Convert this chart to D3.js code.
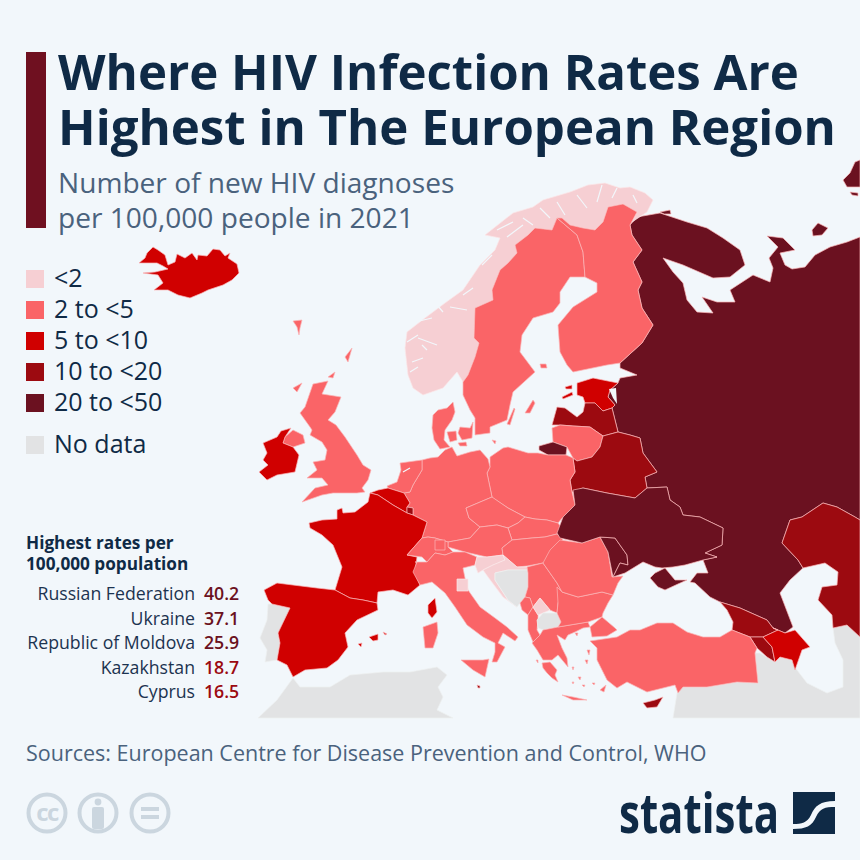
<![CDATA[<!DOCTYPE html>
<html><head><meta charset="utf-8">
<script src="https://cdnjs.cloudflare.com/ajax/libs/d3/7.8.5/d3.min.js"></script>
<style>html,body{margin:0;padding:0;background:#f2f7fb}svg{display:block}text{font-family:"Open Sans",sans-serif}</style>
</head><body><svg id="c" width="860" height="860"></svg>
<script>
const titleLines=["Where HIV Infection Rates Are","Highest in The European Region"];
const subtitleLines=["Number of new HIV diagnoses","per 100,000 people in 2021"];
const legendLabels=["<2","2 to <5","5 to <10","10 to <20","20 to <50","No data"];
const legendColors=["#f6cfd3","#fa6467","#d00000","#9c0a10","#6b1120","#e2e3e4"];
const rankHeading=["Highest rates per","100,000 population"];
const rankNames=["Russian Federation","Ukraine","Republic of Moldova","Kazakhstan","Cyprus"];
const rankValues=[40.2,37.1,25.9,18.7,16.5];
const sourceText="Sources: European Centre for Disease Prevention and Control, WHO";
const rate=v=>v<2?0:v<5?1:v<10?2:v<20?3:v<50?4:5;

// Map outlines, traced as planar map units
const iceland=[[[139,263],[145,258],[147,253],[153,247],[158,250],[165,255],[168,265],[175,262],[177,254],[185,258],[192,253],[197,260],[198,255],[207,256],[213,249],[220,250],[225,256],[230,253],[228,258],[237,264],[239,273],[232,280],[223,285],[208,290],[202,293],[190,298],[178,295],[168,290],[154,290],[163,283],[158,275],[143,273],[155,272],[168,269],[163,266],[157,263],[147,263]]];
const faroe=[[[293,321],[302,320],[300,328],[299,335],[297,327]]];
const uk=[[[313,384],[328,381],[322,394],[341,397],[335,412],[328,420],[336,425],[345,437],[357,455],[363,465],[371,470],[368,480],[362,488],[365,492],[357,493],[333,493],[322,495],[302,502],[315,488],[328,485],[322,478],[307,478],[317,470],[313,462],[325,460],[327,450],[322,442],[310,435],[312,430],[310,427],[300,413],[305,407]],
[[293,388],[302,383],[297,392]],[[328,377],[335,372],[333,378]],[[345,357],[352,348],[348,362]]];
const nIreland=[[[285,437],[293,430],[303,435],[305,443],[293,447],[283,443]]];
const ireland=[[[263,443],[277,437],[281,431],[291,428],[285,437],[283,443],[293,447],[299,455],[295,472],[277,475],[267,480],[259,472],[268,465],[263,460],[267,453]]];
const france=[[[309,523],[322,520],[337,519],[337,510],[342,508],[343,513],[355,512],[368,502],[370,493],[378,495],[393,505],[407,513],[413,515],[427,522],[422,538],[407,555],[417,557],[415,572],[420,585],[408,595],[393,590],[378,592],[377,603],[363,600],[350,598],[335,590],[342,567],[333,545],[322,535],[310,528]]];
const belgium=[[[370,493],[378,490],[388,488],[404,493],[410,503],[407,507],[407,513],[393,505],[378,495]]];
const luxembourg=[[[407,507],[413,508],[413,515],[407,513]]];
const netherlands=[[[387,486],[397,482],[401,470],[400,463],[422,460],[422,470],[413,485],[410,492],[404,493],[388,488]]];
const germany=[[[422,460],[430,458],[438,457],[445,450],[452,447],[457,456],[470,452],[480,450],[488,459],[490,467],[487,473],[492,497],[466,508],[469,518],[480,527],[470,538],[448,542],[435,538],[428,537],[422,538],[427,522],[413,515],[413,508],[407,507],[410,503],[404,493],[410,492],[413,485],[422,470]]];
const denmark=[[[433,415],[438,410],[447,408],[453,402],[455,412],[452,420],[445,430],[444,440],[450,447],[440,449],[434,440],[432,428]],[[460,427],[470,428],[473,422],[472,438],[462,440],[458,433]],[[447,432],[456,431],[457,440],[450,442]],[[458,443],[466,442],[467,446],[460,446]],[[492,440],[496,441],[495,444]]];
const norway=[[[653,200],[645,193],[630,187],[620,188],[605,183],[588,185],[570,192],[543,200],[533,207],[513,213],[485,235],[500,238],[495,250],[480,265],[463,290],[445,303],[425,318],[407,332],[405,348],[408,375],[413,388],[423,395],[443,388],[457,372],[463,382],[468,375],[475,357],[479,343],[474,338],[475,308],[493,300],[492,290],[500,270],[508,263],[517,253],[515,245],[528,235],[535,228],[552,230],[557,220],[562,218],[570,225],[583,228],[595,230],[603,222],[608,207],[623,204],[637,212],[632,222],[647,212]]];
const sweden=[[[557,218],[577,235],[583,252],[585,277],[570,277],[560,292],[560,303],[553,312],[533,318],[522,335],[520,352],[535,372],[513,392],[510,405],[507,420],[490,427],[490,433],[475,435],[475,418],[470,410],[463,395],[463,382],[468,375],[475,357],[479,343],[474,338],[475,308],[493,300],[492,290],[500,270],[508,263],[517,253],[515,245],[528,235],[535,228],[552,230]],[[525,413],[533,400],[535,403],[530,413]],[[507,424],[514,408],[515,409],[510,425]]];
const finland=[[[557,218],[562,218],[570,225],[583,228],[595,230],[603,222],[608,207],[623,204],[637,212],[630,225],[632,235],[642,250],[633,262],[642,282],[638,290],[642,308],[653,325],[642,343],[620,363],[607,365],[573,372],[567,365],[560,352],[558,325],[573,307],[597,292],[597,283],[585,277],[583,252],[577,235]],[[540,364],[546,364],[547,368],[541,368]]];
const estonia=[[[577,383],[593,378],[618,383],[610,390],[608,397],[615,405],[612,408],[603,411],[595,403],[585,403],[583,397],[577,395]],[[562,397],[572,392],[573,395],[563,399]],[[565,387],[572,385],[572,389],[566,389]]];
const latvia=[[[552,425],[557,407],[565,408],[577,417],[583,412],[585,403],[595,403],[603,411],[612,408],[618,432],[603,436],[590,427],[573,426],[560,425]]];
const lithuania=[[[552,428],[560,425],[573,426],[590,427],[603,436],[600,447],[592,457],[577,461],[573,458],[567,447],[553,442]]];
const kaliningrad=[[[539,446],[553,442],[567,447],[566,455],[548,455],[539,450]]];
const belarus=[[[603,436],[618,432],[630,435],[640,438],[643,453],[657,472],[645,477],[647,488],[635,498],[607,493],[583,488],[572,492],[570,480],[575,472],[573,458],[577,461],[592,457],[600,447]]];
const poland=[[[490,463],[490,457],[503,448],[508,447],[528,453],[538,453],[548,455],[566,455],[573,458],[575,472],[570,480],[572,492],[575,505],[563,517],[558,523],[547,520],[535,519],[525,517],[508,508],[493,498],[492,497],[487,473],[490,467]]];
const czechia=[[[466,508],[492,497],[508,508],[525,517],[518,523],[508,528],[497,525],[480,527],[469,518]]];
const slovakia=[[[525,517],[535,519],[547,520],[558,523],[563,530],[557,534],[545,537],[532,538],[512,540],[508,528],[518,523]]];
const austria=[[[480,527],[497,525],[508,528],[512,540],[502,548],[503,555],[487,557],[465,552],[448,547],[448,542],[470,538]]];
const hungary=[[[512,540],[532,538],[545,537],[557,534],[563,540],[553,552],[543,563],[527,566],[517,567],[503,555],[502,548]]];
const switzerland=[[[428,537],[435,538],[448,542],[448,547],[453,552],[445,555],[435,553],[427,562],[422,557],[407,555],[422,538]]];
const squareA=[[[435,540],[445,540],[445,550],[435,550]]];
const italy=[[[415,562],[427,562],[435,553],[445,555],[453,552],[465,552],[477,557],[475,565],[463,568],[465,578],[468,590],[480,607],[495,618],[507,627],[518,637],[515,641],[503,633],[498,643],[505,647],[497,662],[492,662],[495,652],[495,643],[483,637],[467,625],[455,607],[445,593],[432,582],[420,585],[413,572],[417,562]],
[[461,660],[483,660],[489,659],[485,677],[473,670]],[[423,627],[437,622],[438,633],[433,648],[425,648]]];
const sanMarino=[[[457,579],[468,579],[468,591],[457,591]]];
const corsica=[[[428,605],[435,598],[437,612],[432,618],[428,613]]];
const spain=[[[264,590],[277,583],[293,585],[317,588],[335,590],[350,598],[363,600],[377,603],[378,610],[357,620],[345,633],[348,647],[338,660],[327,668],[305,670],[293,677],[287,665],[277,660],[280,643],[278,633],[290,608],[272,604],[268,600]],
[[369,637],[378,634],[378,640],[373,641]],[[383,632],[387,634],[385,635]],[[358,644],[362,643],[361,647]]];
const portugal=[[[268,604],[272,604],[290,608],[285,623],[278,633],[280,643],[277,660],[265,662],[267,650],[260,638],[267,620]]];
const northAfrica=[[[258,718],[277,700],[293,678],[300,687],[330,687],[350,675],[383,672],[410,672],[437,667],[447,675],[438,687],[443,697],[437,710],[453,718]]];
const malta=[[[477,685],[480,686],[480,688],[478,688]]];
const slovenia=[[[477,557],[487,557],[503,555],[505,560],[493,565],[483,570],[478,573],[475,565]]];
const croatia=[[[503,555],[517,567],[527,567],[528,570],[508,570],[495,573],[495,580],[508,600],[517,607],[503,597],[488,577],[483,570],[493,565],[505,560]]];
const bosnia=[[[495,573],[508,570],[528,570],[528,587],[525,597],[520,603],[517,607],[508,600],[495,580]]];
const serbia=[[[527,567],[543,563],[557,583],[562,592],[558,603],[557,613],[550,610],[540,598],[533,607],[530,598],[525,597],[528,587],[528,573]]];
const montenegro=[[[520,603],[525,597],[530,598],[533,607],[528,615],[522,610]]];
const albania=[[[528,615],[533,607],[538,615],[538,620],[537,630],[540,635],[533,642],[528,630]]];
const kosovo=[[[533,607],[540,598],[550,610],[543,613],[538,615]]];
const macedonia=[[[537,620],[543,613],[557,613],[561,622],[558,627],[543,630],[538,628]]];
const greece=[[[540,635],[543,630],[558,627],[570,625],[588,622],[590,627],[583,628],[575,632],[568,635],[565,640],[557,635],[562,648],[567,658],[568,667],[558,655],[552,660],[543,660],[537,650],[532,643],[533,642]],
[[542,663],[550,662],[557,670],[555,675],[558,682],[552,678],[547,673],[543,668]],[[562,695],[573,697],[587,700],[573,700]],
[[587,650],[590,650],[589,655]],[[585,660],[588,660],[587,664]],[[575,633],[578,633],[577,636]],[[572,667],[574,667],[573,670]],[[578,677],[581,677],[580,680]],[[572,682],[574,682],[573,684]],[[600,690],[606,685],[604,692]],[[582,685],[585,685],[584,687]],[[592,683],[595,683],[594,685]],[[536,660],[538,660],[538,663]]];
const bulgaria=[[[557,587],[562,592],[578,597],[602,592],[613,595],[608,603],[603,613],[602,617],[588,622],[570,625],[558,627],[561,622],[557,613],[558,603]]];
const romania=[[[543,563],[550,550],[560,540],[582,543],[600,537],[608,552],[612,577],[623,576],[618,583],[613,595],[602,592],[578,597],[562,592],[557,583]]];
const moldova=[[[600,537],[615,538],[627,555],[628,565],[620,563],[613,577],[608,552]]];
const ukraine=[[[573,490],[583,488],[607,493],[635,498],[647,488],[667,487],[670,500],[680,507],[683,515],[700,517],[723,528],[722,545],[705,553],[717,557],[703,560],[685,565],[673,567],[662,568],[655,567],[643,562],[625,573],[613,577],[620,563],[628,565],[627,555],[615,538],[600,537],[582,543],[560,538],[557,533],[563,517],[575,505]],
[[650,578],[655,573],[665,568],[675,580],[687,580],[678,584],[665,590],[658,587]]];
const russia=[[[630,225],[637,217],[660,213],[687,222],[707,228],[723,238],[740,250],[745,265],[730,277],[713,278],[683,265],[663,258],[673,272],[683,283],[687,300],[697,312],[713,313],[702,297],[717,302],[735,302],[730,290],[753,275],[770,282],[773,268],[769,258],[778,247],[767,236],[783,238],[795,250],[780,253],[785,265],[792,269],[805,267],[815,255],[830,247],[847,242],[860,237],[860,520],[855,517],[837,507],[823,503],[802,517],[790,520],[782,543],[798,560],[803,568],[790,580],[780,593],[793,627],[785,633],[773,628],[767,620],[740,608],[720,602],[710,597],[695,583],[690,582],[697,573],[708,573],[703,560],[717,557],[705,553],[722,545],[723,528],[700,517],[683,515],[680,507],[670,500],[667,487],[647,488],[645,477],[657,472],[643,453],[640,438],[630,435],[618,432],[612,408],[615,405],[608,397],[610,390],[618,383],[620,378],[637,375],[620,368],[620,363],[642,343],[653,325],[642,308],[638,290],[642,282],[633,262],[642,250],[632,235]],
[[843,180],[850,173],[855,162],[860,160],[860,187],[847,187]],[[812,230],[818,223],[828,228],[822,235],[813,236]],[[850,192],[858,193],[858,196],[852,195]],[[660,212],[670,210],[671,214],[664,214]]];
const kazakhstan=[[[860,520],[855,517],[837,507],[823,503],[802,517],[790,520],[782,543],[798,560],[803,568],[825,563],[838,572],[837,585],[822,587],[818,600],[832,615],[833,628],[847,625],[860,637]]];
const georgia=[[[720,602],[740,608],[767,620],[773,628],[778,630],[763,637],[750,637],[732,630],[733,622],[727,610]]];
const armenia=[[[750,637],[763,637],[772,647],[775,662],[767,657],[757,648]]];
const azerbaijan=[[[773,628],[785,633],[795,630],[810,647],[802,650],[795,670],[792,660],[780,657],[775,662],[772,647],[763,637],[778,630]]];
const turkey=[[[590,627],[602,617],[615,628],[617,630],[607,636],[592,637]],
[[590,641],[617,637],[630,630],[640,630],[657,623],[673,623],[687,632],[703,637],[720,637],[732,630],[750,637],[757,648],[755,653],[758,683],[737,682],[707,687],[683,687],[678,693],[675,685],[667,687],[647,692],[627,682],[617,688],[607,680],[597,660],[597,648]]];
const cyprus=[[[643,703],[655,700],[663,697],[657,707],[647,708]]];
const middleEast=[[[673,718],[677,693],[683,687],[707,687],[737,682],[758,683],[755,653],[760,653],[775,662],[780,657],[792,660],[797,670],[807,683],[827,693],[843,687],[843,660],[835,643],[833,628],[847,625],[860,637],[860,718]]];
const waterLines=[[[497,230],[513,222]],[[507,237],[523,225]],[[523,218],[533,225]],[[540,208],[550,218]],[[557,202],[565,215]],[[577,195],[587,208]],[[602,185],[597,202]],[[617,188],[612,198]],[[633,195],[637,203]],[[482,265],[492,255]],[[463,295],[473,288]],[[450,307],[467,310]],[[437,305],[443,312]],[[418,338],[437,345]],[[422,345],[427,350]],[[407,342],[418,335]],[[412,362],[423,358]],[[410,372],[418,367]],[[415,322],[432,318]],[[403,472],[410,468]]];
const lakePeipus=[[[609,389],[616,388],[617,404],[613,398]]];

const countries=[
["Iceland",2,iceland],["Faroe",1,faroe],["United Kingdom",1,uk],["Northern Ireland",1,nIreland],["Ireland",2,ireland],
["Portugal",5,portugal],["North Africa",5,northAfrica],["Middle East",5,middleEast],
["Russia",4,russia],["Norway",0,norway],["Sweden",1,sweden],["Finland",1,finland],["Denmark",1,denmark],
["Estonia",2,estonia],["Latvia",3,latvia],["Lithuania",1,lithuania],["Kaliningrad",4,kaliningrad],["Belarus",3,belarus],
["Poland",1,poland],["Germany",1,germany],["Netherlands",1,netherlands],["Belgium",2,belgium],["Luxembourg",3,luxembourg],
["France",2,france],["Spain",2,spain],["Corsica",2,corsica],["Czechia",1,czechia],["Slovakia",1,slovakia],["Austria",1,austria],
["Hungary",1,hungary],["Switzerland",1,switzerland],["Liechtenstein",1,squareA],["Italy",1,italy],["San Marino",0,sanMarino],["Malta",3,malta],
["Slovenia",0,slovenia],["Croatia",0,croatia],["Bosnia",5,bosnia],["Serbia",1,serbia],["Montenegro",1,montenegro],["Albania",1,albania],
["Kosovo",0,kosovo],["North Macedonia",5,macedonia],["Greece",1,greece],["Bulgaria",1,bulgaria],["Romania",1,romania],["Moldova",4,moldova],
["Ukraine",4,ukraine],["Kazakhstan",3,kazakhstan],["Georgia",3,georgia],["Armenia",3,armenia],["Azerbaijan",2,azerbaijan],["Turkey",1,turkey],["Cyprus",3,cyprus]
];

const bg="#f2f7fb",navy="#0f2a46",slate="#4a627d";
const svg=d3.select("#c");
svg.append("rect").attr("width",860).attr("height",860).attr("fill",bg);
const path=d3.geoPath(d3.geoIdentity());
const toGeo=rings=>({type:"MultiPolygon",coordinates:rings.map(r=>[r.concat([r[0]])])});
const strokeFor=c=>c===5?"#eef0f1":c===0?"#fbe6e8":"#fbb6b8";
svg.append("g").selectAll("path").data(countries).join("path")
 .attr("d",d=>path(toGeo(d[2])))
 .attr("fill",d=>legendColors[d[1]]).attr("stroke",d=>strokeFor(d[1]))
 .attr("stroke-width",.7).attr("stroke-linejoin","round");
svg.append("path").attr("d",path({type:"MultiLineString",coordinates:waterLines}))
 .attr("fill","none").attr("stroke",bg).attr("stroke-width",1.2);
svg.append("path").attr("d",path(toGeo(lakePeipus))).attr("fill",bg);

// Heading block
svg.append("rect").attr("x",26).attr("y",52).attr("width",20).attr("height",176).attr("fill","#6f1020");
svg.append("g").selectAll("text").data(titleLines).join("text")
 .attr("x",58).attr("y",(d,i)=>90+i*55).attr("fill",navy).attr("font-size",49.2).attr("font-weight",700).text(d=>d);
svg.append("g").selectAll("text").data(subtitleLines).join("text")
 .attr("x",58).attr("y",(d,i)=>193+i*34.5).attr("fill",slate).attr("font-size",28.1).text(d=>d);

// Legend
const legendY=d3.scalePoint().domain(legendLabels.slice(0,5)).range([270,394]);
const ly=(d,i)=>i<5?legendY(d):436;
const lg=svg.append("g").selectAll("g").data(legendLabels).join("g");
lg.append("rect").attr("x",26).attr("y",ly).attr("width",18).attr("height",18).attr("fill",(d,i)=>legendColors[i]);
lg.append("text").attr("x",54).attr("y",(d,i)=>ly(d,i)+17).attr("fill",navy).attr("font-size",25).text(d=>d);

// Ranking table
svg.append("g").selectAll("text").data(rankHeading).join("text")
 .attr("x",26).attr("y",(d,i)=>549+i*21).attr("fill",navy).attr("font-size",17.2).attr("font-weight",700).text(d=>d);
const rowY=d3.scalePoint().domain(rankNames).range([600,698]);
svg.append("g").selectAll("text").data(rankNames).join("text")
 .attr("x",195).attr("y",d=>rowY(d)).attr("text-anchor","end").attr("fill","#1c3350").attr("font-size",17.7).text(d=>d);
svg.append("g").selectAll("text").data(rankValues).join("text")
 .attr("x",204).attr("y",(d,i)=>rowY(rankNames[i])).attr("fill",d=>legendColors[rate(d)]).attr("font-size",17.7).attr("font-weight",600).text(d=>d.toFixed(1));

// Source and footer marks
svg.append("text").attr("x",26).attr("y",761).attr("fill",slate).attr("font-size",21.5).text(sourceText);
const icons=[47,98,150];
const ig=svg.append("g").selectAll("g").data(icons).join("g").attr("transform",d=>`translate(${d},813)`);
ig.append("circle").attr("r",18.5).attr("fill","none").attr("stroke","#cbd6df").attr("stroke-width",4);
const iconGrey="#cbd6df";
d3.select(ig.nodes()[0]).append("text").attr("text-anchor","middle").attr("y",8).attr("font-size",24).attr("font-weight",700).attr("fill",iconGrey).attr("letter-spacing",-1.5).text("cc");
const person=d3.select(ig.nodes()[1]);
person.append("circle").attr("cy",-11).attr("r",3.4).attr("fill",iconGrey);
person.append("rect").attr("x",-6).attr("y",-6).attr("width",12).attr("height",22).attr("rx",2).attr("fill",iconGrey);
const equal=d3.select(ig.nodes()[2]);
equal.append("rect").attr("x",-9).attr("y",-6).attr("width",18).attr("height",4).attr("fill",iconGrey);
equal.append("rect").attr("x",-9).attr("y",2).attr("width",18).attr("height",4).attr("fill",iconGrey);
svg.append("text").attr("x",619).attr("y",833).attr("fill",navy).attr("font-size",56).attr("font-weight",700)
 .attr("textLength",160).attr("lengthAdjust","spacingAndGlyphs").text("statista");
svg.append("rect").attr("x",793).attr("y",792).attr("width",42).attr("height",42).attr("fill",navy);
svg.append("path").attr("fill",bg).attr("d","M835 801 C820 801 815 806 811 815 C807 823 802 824 793 824 L793 829 C806 829 812 826 816 817 C820 808 825 807 835 807 Z");
</script></body></html>]]>
